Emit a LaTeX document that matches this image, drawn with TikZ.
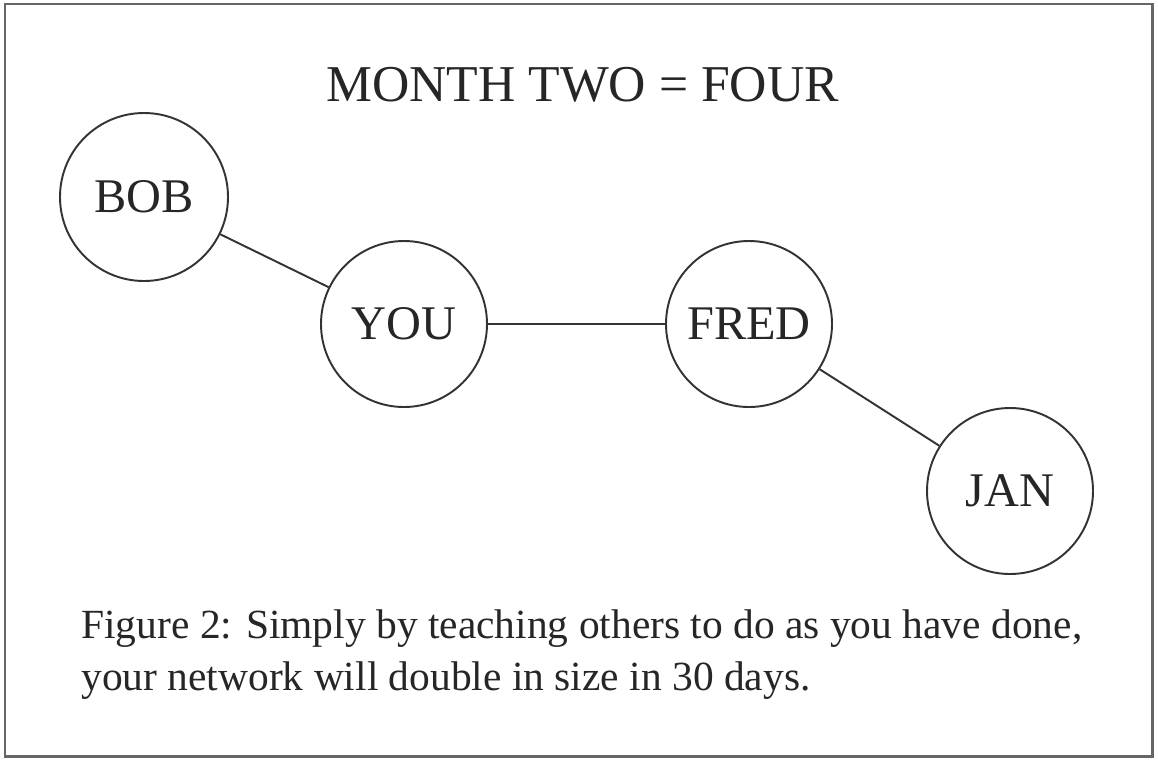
\documentclass[tikz,border=0pt]{standalone}
\usepackage{fontspec}
\setmainfont{Liberation Serif}
\begin{document}
\begin{tikzpicture}[scale=2,
		person/.style={circle, draw=black!80, line width=1.1pt, minimum size=3.32cm, inner sep=0pt, text=black!85, font=\fontsize{27.5}{32}\selectfont},
		link/.style={draw=black!80, line width=1.1pt},
		caption/.style={anchor=base west, inner sep=0pt, text=black!85, font=\fontsize{23.6}{28}\selectfont}]
	% Khung
	\useasboundingbox (0,0) rectangle (11.58,-7.59);
	\draw[black!60, line width=1.7pt] (0.05,-0.04) rectangle (11.52,-7.56);
	% Tiêu đề
	\node[anchor=base, text=black!85, font=\fontsize{29.4}{34}\selectfont] (title) at (5.825,-1.01) {MONTH TWO = FOUR};
	% Các vòng tròn
	\node[person, minimum size=3.36cm] (bob) at (1.44,-1.97) {BOB};
	\node[person] (you) at (4.04,-3.24) {YOU};
	\node[person] (fred) at (7.49,-3.24) {FRED};
	\node[person] (jan) at (10.10,-4.91) {JAN};
	% Đường nối
	\draw[link] (bob) -- (you) -- (fred) -- (jan);
	% Chú thích
	\node[caption] (cap1) at (0.81,-6.38) {Figure 2: Simply by teaching others to do as you have done,};
	\node[caption] (cap2) at (0.81,-6.90) {your network will double in size in 30 days.};
\end{tikzpicture}
\end{document}
